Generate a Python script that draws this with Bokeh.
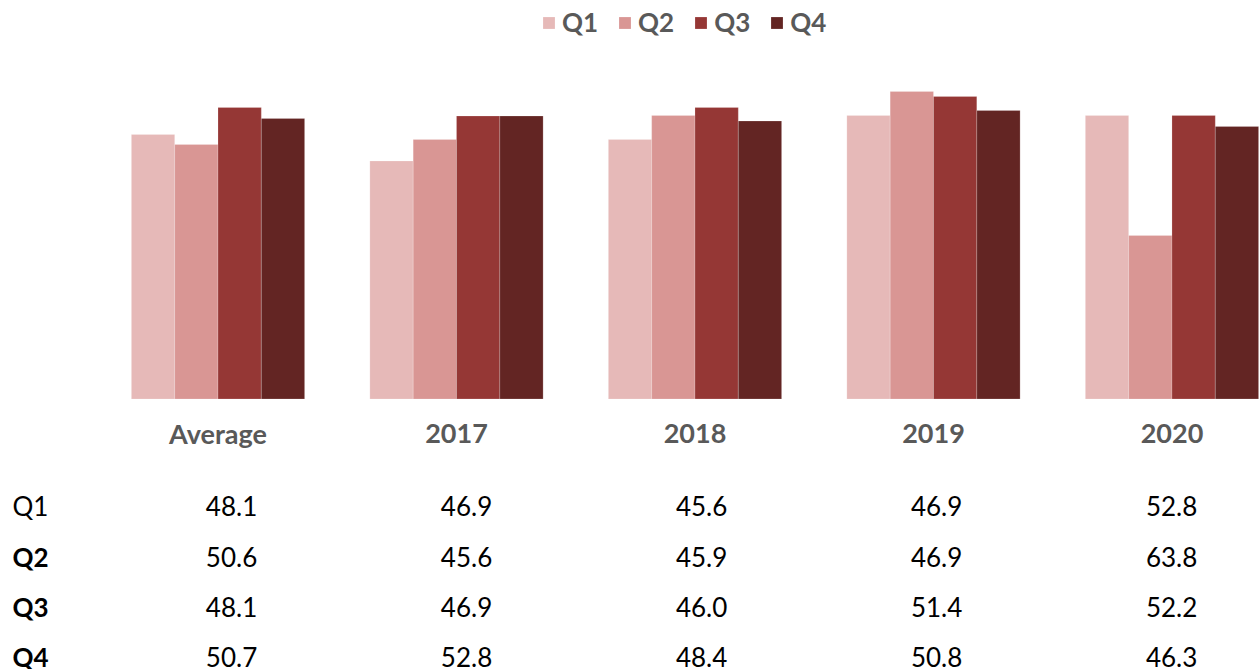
from bokeh.plotting import figure
from bokeh.models import Range1d, Legend, LegendItem
from bokeh.core.properties import value
from bokeh.embed import file_html
from bokeh.resources import INLINE

# Categories and series
groups = ["Average", "2017", "2018", "2019", "2020"]
quarters = ["Q1", "Q2", "Q3", "Q4"]
colors = ["#E6B9B8", "#D99694", "#953735", "#632523"]

# Bar heights per quarter (index scale)
bar_q1 = [52.9, 47.6, 51.9, 56.7, 56.7]
bar_q2 = [50.9, 51.9, 56.7, 61.5, 32.7]
bar_q3 = [58.3, 56.6, 58.3, 60.5, 56.7]
bar_q4 = [56.1, 56.6, 55.6, 57.7, 54.5]

# Data table below the chart
table_q1 = [48.1, 46.9, 45.6, 46.9, 52.8]
table_q2 = [50.6, 45.6, 45.9, 46.9, 63.8]
table_q3 = [48.1, 46.9, 46.0, 51.4, 52.2]
table_q4 = [50.7, 52.8, 48.4, 50.8, 46.3]

bars = [bar_q1, bar_q2, bar_q3, bar_q4]
table = [table_q1, table_q2, table_q3, table_q4]

W, H = 1259, 669
FONT = "Lato"

p = figure(width=W, height=H, output_backend="svg", toolbar_location=None,
           x_range=Range1d(-0.912, 4.367), y_range=Range1d(-54.1, 79.7),
           x_axis_location=None, y_axis_location=None, min_border=0)
p.outline_line_color = None
p.xgrid.visible = False
p.ygrid.visible = False

# separate coordinate systems for the table grid (columns / rows)
p.extra_x_ranges = {"tcol": Range1d(-0.983, 4.374)}
p.extra_y_ranges = {"trow": Range1d(-3.242, 10.058)}

bar_w = 0.1816
offsets = [-1.5, -0.5, 0.5, 1.5]
items = []
for q, vals, col, off in zip(quarters, bars, colors, offsets):
    xs = [i + off * bar_w for i in range(len(groups))]
    r = p.vbar(x=xs, top=vals, bottom=0, width=bar_w, fill_color=col,
               line_color="white", line_alpha=0.25, line_width=0.75)
    items.append(LegendItem(label=q, renderers=[r]))

# group labels under the bars
p.text(x=list(range(len(groups))), y=[1.451] * len(groups), text=groups,
       y_range_name="trow", text_font=value(FONT), text_font_style="bold",
       text_font_size="27px", text_color="#595959", text_align="center",
       text_baseline="alphabetic")

# table rows
for r_i, (q, row) in enumerate(zip(quarters, table)):
    yv = -r_i
    p.text(x=[-0.932], y=[yv], text=[q], x_range_name="tcol", y_range_name="trow",
           text_font=value(FONT), text_font_style="normal" if r_i == 0 else "bold",
           text_font_size="26px", text_color="#000000", text_align="left",
           text_baseline="alphabetic")
    p.text(x=list(range(len(row))), y=[yv] * len(row), text=[f"{v:.1f}" for v in row],
           x_range_name="tcol", y_range_name="trow",
           text_font=value(FONT), text_font_size="26px", text_color="#000000",
           text_align="center", text_baseline="alphabetic")

legend = Legend(items=items, orientation="horizontal", location=(541, 631),
                glyph_width=15, glyph_height=15, label_standoff=6, spacing=19,
                label_width=36, padding=0, margin=0, border_line_color=None,
                background_fill_alpha=0, label_text_font=FONT,
                label_text_font_style="bold", label_text_font_size="26px",
                label_text_color="#595959")
p.add_layout(legend)

open("out.html", "w").write(file_html(p, INLINE))
